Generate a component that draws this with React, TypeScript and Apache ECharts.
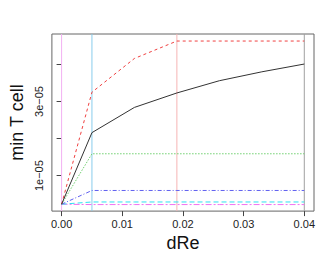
import React, { useEffect, useRef } from "react";
import * as echarts from "echarts";

const dRe = [0, 0.005, 0.012, 0.019, 0.026, 0.033, 0.04];
const blackVals = [2.3e-6, 2.16e-5, 2.84e-5, 3.23e-5, 3.56e-5, 3.8e-5, 4.01e-5];
const redVals = [2.3e-6, 3.25e-5, 4.16e-5, 4.63e-5, 4.63e-5, 4.63e-5, 4.63e-5];
const greenVals = [2.3e-6, 1.59e-5, 1.59e-5, 1.59e-5, 1.59e-5, 1.59e-5, 1.59e-5];
const blueVals = [2.3e-6, 6.0e-6, 6.0e-6, 6.0e-6, 6.0e-6, 6.0e-6, 6.0e-6];
const cyanVals = [2.3e-6, 2.9e-6, 2.9e-6, 2.9e-6, 2.9e-6, 2.9e-6, 2.9e-6];
const magentaVals = [2.3e-6, 2.2e-6, 2.2e-6, 2.2e-6, 2.2e-6, 2.2e-6, 2.2e-6];
const vlineX = [0, 0.005, 0.019, 0.04];
const vlineColors = ["#f2b0f2", "#88ccec", "#f6b4b4", "#a0a0a0"];
const xTicks = [0, 0.01, 0.02, 0.03, 0.04];
const yTicks = [1e-5, 2e-5, 3e-5, 4e-5];
const yLabels = [1e-5, 3e-5];

const Y_MIN = 4.4e-7;
const Y_MAX = 4.82e-5;
const FONT = "Liberation Sans, Arial, sans-serif";

export default function App() {
  const ref = useRef<HTMLDivElement>(null);
  useEffect(() => {
    const chart = echarts.init(ref.current!, null, { renderer: "svg" });
    const mk = (vals: number[], color: string, type: any, width = 1) => ({
      type: "line",
      data: dRe.map((x, i) => [x, vals[i]]),
      showSymbol: false,
      symbol: "none",
      lineStyle: { color, type, width },
      z: 3,
    });
    const vlines = vlineX.map((x, i) => ({
      type: "line",
      data: [
        [x, Y_MIN],
        [x, Y_MAX],
      ],
      showSymbol: false,
      symbol: "none",
      lineStyle: { color: vlineColors[i], type: "solid", width: 1 },
      z: 2,
    }));
    chart.setOption({
      animation: false,
      grid: {
        left: 41,
        right: 18,
        top: 34,
        bottom: 44,
        show: true,
        borderColor: "#666",
        borderWidth: 1,
        backgroundColor: "transparent",
      },
      xAxis: {
        type: "value",
        min: -0.0016,
        max: 0.0416,
        axisLine: { show: false },
        splitLine: { show: false },
        axisTick: { show: true, customValues: xTicks, length: 5, lineStyle: { color: "#444" } },
        axisLabel: {
          customValues: xTicks,
          formatter: (v: number) => v.toFixed(2),
          fontSize: 11,
          color: "#222",
          fontFamily: FONT,
          margin: 7,
        },
        name: "dRe",
        nameLocation: "middle",
        nameGap: 20,
        nameTextStyle: { fontSize: 18, color: "#111", fontFamily: FONT },
      },
      yAxis: {
        type: "value",
        min: Y_MIN,
        max: Y_MAX,
        axisLine: { show: false },
        splitLine: { show: false },
        axisTick: { show: true, customValues: yTicks, length: 5, lineStyle: { color: "#444" } },
        axisLabel: {
          customValues: yLabels,
          rotate: 90,
          formatter: (v: number) => Math.round(v * 1e5) + "e\u221205",
          fontSize: 11,
          color: "#222",
          fontFamily: FONT,
          margin: 7,
        },
        name: "min T cell",
        nameLocation: "middle",
        nameRotate: 90,
        nameGap: 19,
        nameTextStyle: { fontSize: 18, color: "#111", fontFamily: FONT },
      },
      series: [
        ...vlines,
        mk(magentaVals, "#f070f0", [6, 2, 2, 2]),
        mk(cyanVals, "#30e0f0", [5, 3]),
        mk(blueVals, "#6060f0", [4, 2, 1, 2]),
        mk(greenVals, "#70d070", [1.5, 1.5]),
        mk(redVals, "#f04040", [3, 3]),
        mk(blackVals, "#333333", "solid"),
      ],
    });
    return () => chart.dispose();
  }, []);
  return <div ref={ref} style={{ width: 332, height: 257, position: "absolute", left: 0, top: 0 }} />;
}
